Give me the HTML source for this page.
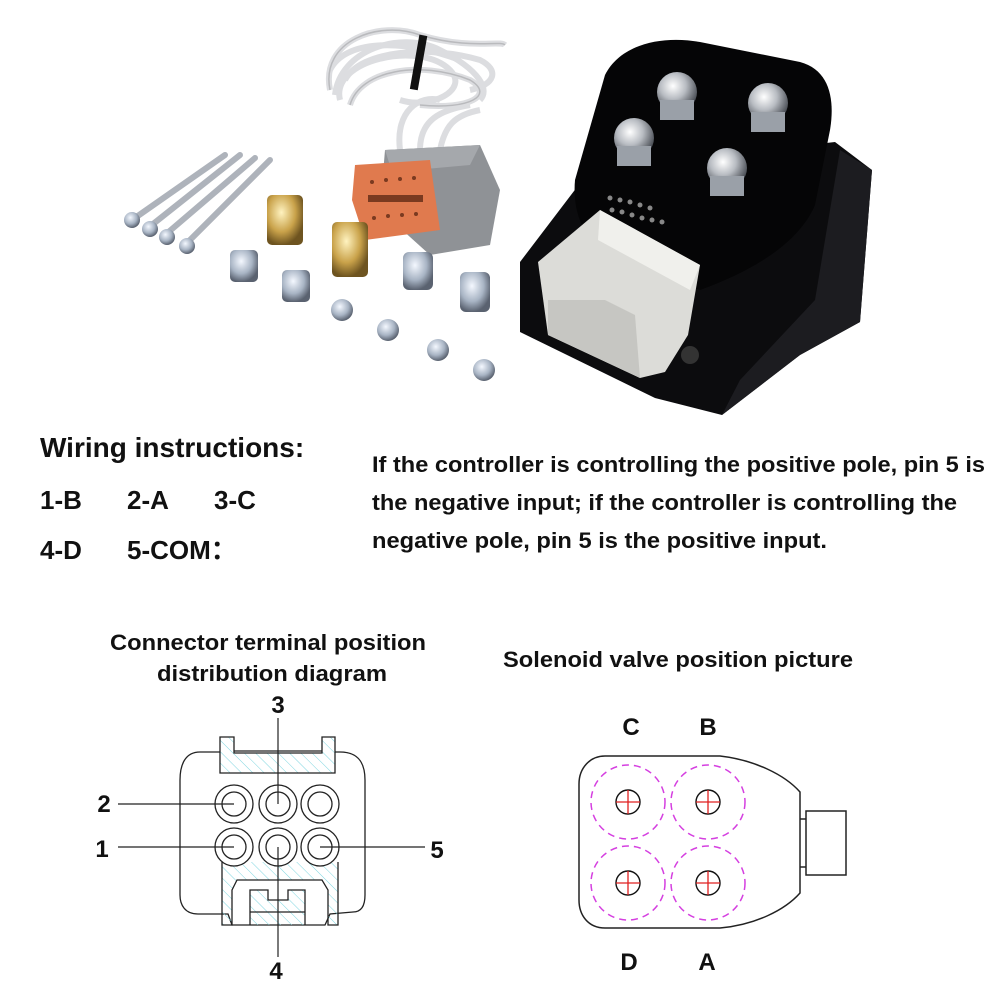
<!DOCTYPE html>
<html><head><meta charset="utf-8"><style>
html,body{margin:0;padding:0;background:#fff;}
svg{display:block;}
text{font-family:"Liberation Sans",Arial,sans-serif;fill:#111;}
</style></head><body>
<svg width="1000" height="1000" viewBox="0 0 1000 1000" xmlns="http://www.w3.org/2000/svg">
<defs>
<pattern id="h" width="8" height="8" patternUnits="userSpaceOnUse" patternTransform="rotate(-45)"><line x1="0" y1="0" x2="0" y2="8" stroke="#7fd6e0" stroke-width="1"/></pattern>
<radialGradient id="nut" cx="40%" cy="35%" r="65%"><stop offset="0" stop-color="#fff"/><stop offset="0.5" stop-color="#b8bcc2"/><stop offset="1" stop-color="#4a4e55"/></radialGradient>
<radialGradient id="brass" cx="40%" cy="35%" r="65%"><stop offset="0" stop-color="#fff3c0"/><stop offset="0.6" stop-color="#c9a24a"/><stop offset="1" stop-color="#6e5420"/></radialGradient>
<radialGradient id="zinc" cx="40%" cy="35%" r="65%"><stop offset="0" stop-color="#f4f8ff"/><stop offset="0.6" stop-color="#a8b4c4"/><stop offset="1" stop-color="#5a6270"/></radialGradient>
</defs>

<g fill="none" stroke="#dcdde0" stroke-width="6">
<path d="M330,90 C320,40 380,20 420,35 C470,50 500,40 505,45"/>
<path d="M335,95 C340,50 400,30 440,50 C480,70 490,90 480,100"/>
<path d="M340,100 C330,60 420,40 450,70 C470,90 430,110 400,100"/>
<path d="M350,105 C360,70 420,60 470,80 C495,95 470,110 420,105"/>
<path d="M345,80 C360,50 430,45 480,60 C500,70 495,85 470,90"/>
<path d="M330,70 C345,40 400,38 460,60"/>
<path d="M400,150 C395,110 420,95 440,100"/>
<path d="M420,150 C420,120 440,110 470,105"/>
<path d="M440,150 C445,125 455,115 480,110"/>
</g>
<g fill="none" stroke="#b9babd" stroke-width="1.5">
<path d="M330,90 C320,40 380,20 420,35 C470,50 500,40 505,45"/>
<path d="M350,105 C360,70 420,60 470,80 C495,95 470,110 420,105"/>
</g>
<rect x="415" y="35" width="8" height="55" fill="#111" transform="rotate(10 419 60)"/>

<polygon points="385,150 480,145 500,190 490,245 430,255 380,210" fill="#8f9296"/>
<polygon points="385,150 480,145 470,165 392,172" fill="#a5a8ac"/>
<polygon points="355,165 430,160 440,230 365,240 352,200" fill="#e07a4e"/>
<g fill="#7a3a20">
<circle cx="372" cy="182" r="2"/><circle cx="386" cy="180" r="2"/><circle cx="400" cy="179" r="2"/><circle cx="414" cy="178" r="2"/>
<circle cx="374" cy="218" r="2"/><circle cx="388" cy="216" r="2"/><circle cx="402" cy="215" r="2"/><circle cx="416" cy="214" r="2"/>
<rect x="368" y="195" width="55" height="7"/>
</g>

<g stroke="#aeb3bb" stroke-width="6" stroke-linecap="round">
<line x1="132" y1="220" x2="225" y2="155"/>
<line x1="148" y1="228" x2="240" y2="155"/>
<line x1="165" y1="235" x2="255" y2="158"/>
<line x1="185" y1="245" x2="270" y2="160"/>
</g>
<g fill="url(#zinc)"><circle cx="132" cy="220" r="8"/><circle cx="150" cy="229" r="8"/><circle cx="167" cy="237" r="8"/><circle cx="187" cy="246" r="8"/></g>

<rect x="267" y="195" width="36" height="50" rx="5" fill="url(#brass)"/>
<rect x="332" y="222" width="36" height="55" rx="5" fill="url(#brass)"/>
<rect x="230" y="250" width="28" height="32" rx="5" fill="url(#zinc)"/>
<rect x="282" y="270" width="28" height="32" rx="5" fill="url(#zinc)"/>
<rect x="403" y="252" width="30" height="38" rx="6" fill="url(#zinc)"/>
<rect x="460" y="272" width="30" height="40" rx="6" fill="url(#zinc)"/>
<circle cx="342" cy="310" r="11" fill="url(#zinc)"/>
<circle cx="388" cy="330" r="11" fill="url(#zinc)"/>
<circle cx="438" cy="350" r="11" fill="url(#zinc)"/>
<circle cx="484" cy="370" r="11" fill="url(#zinc)"/>

<polygon points="520,262 590,170 835,142 872,170 860,322 800,355 722,415 655,398 520,332" fill="#0c0c0e"/>
<polygon points="722,415 800,355 860,322 872,170 840,150 815,300 740,380" fill="#1c1c20"/>
<path d="M605,75 C620,45 660,35 700,42 L800,62 C830,70 835,100 830,130 L815,205 C800,240 760,268 700,290 L620,262 C585,245 572,215 575,180 Z" fill="#050506"/>
<g fill="url(#nut)">
<circle cx="677" cy="92" r="20"/><circle cx="768" cy="103" r="20"/><circle cx="634" cy="138" r="20"/><circle cx="727" cy="168" r="20"/>
</g>
<g fill="#9aa0a8"><rect x="660" y="100" width="34" height="20"/><rect x="751" y="112" width="34" height="20"/><rect x="617" y="146" width="34" height="20"/><rect x="710" y="176" width="34" height="20"/></g>
<g fill="#888"><circle cx="610" cy="198" r="2.5"/><circle cx="620" cy="200" r="2.5"/><circle cx="630" cy="202" r="2.5"/><circle cx="640" cy="205" r="2.5"/><circle cx="650" cy="208" r="2.5"/><circle cx="612" cy="210" r="2.5"/><circle cx="622" cy="212" r="2.5"/><circle cx="632" cy="215" r="2.5"/><circle cx="642" cy="218" r="2.5"/><circle cx="652" cy="220" r="2.5"/><circle cx="662" cy="222" r="2.5"/></g>
<polygon points="538,262 600,210 700,265 688,335 665,372 640,378 548,335" fill="#dcdcd8"/>
<polygon points="548,300 605,300 635,315 640,378 548,335" fill="#c6c6c2"/>
<polygon points="600,210 700,265 690,290 598,240" fill="#f0f0ec"/>
<circle cx="690" cy="355" r="9" fill="#333"/>

<text x="40" y="457" font-size="28" font-weight="bold">Wiring instructions:</text>
<text x="40" y="509" font-size="26" font-weight="bold">1-B</text>
<text x="127" y="509" font-size="26" font-weight="bold">2-A</text>
<text x="214" y="509" font-size="26" font-weight="bold">3-C</text>
<text x="40" y="559" font-size="26" font-weight="bold">4-D</text>
<text x="127" y="559" font-size="26" font-weight="bold">5-COM：</text>
<g font-size="22" font-weight="bold">
<text x="372" y="472" textLength="613" lengthAdjust="spacingAndGlyphs">If the controller is controlling the positive pole, pin 5 is</text>
<text x="372" y="510" textLength="585" lengthAdjust="spacingAndGlyphs">the negative input; if the controller is controlling the</text>
<text x="372" y="548" textLength="455" lengthAdjust="spacingAndGlyphs">negative pole, pin 5 is the positive input.</text>
</g>
<g font-size="22" font-weight="bold">
<text x="110" y="650" textLength="316" lengthAdjust="spacingAndGlyphs">Connector terminal position</text>
<text x="157" y="681" textLength="230" lengthAdjust="spacingAndGlyphs">distribution diagram</text>
<text x="503" y="667" textLength="350" lengthAdjust="spacingAndGlyphs">Solenoid valve position picture</text>
</g>

<g fill="none" stroke="#222" stroke-width="1.3">
<path d="M220,752 L200,752 C185,752 180,765 180,780 L180,895 C180,905 185,914 198,914 L228,914 L232,925 L325,925 L330,914 L353,912 C362,912 365,905 365,895 L365,780 C365,765 360,752 340,752 L335,752"/>
<path d="M220,737 L234,737 L234,753 L322,753 L322,737 L335,737 L335,773 L220,773 Z" fill="url(#h)"/>
<line x1="234" y1="751" x2="322" y2="751"/>
<path d="M222,862 L222,925 L232,925 L232,890 L237,880 L322,880 L328,890 L328,925 L338,925 L338,862" fill="url(#h)"/>
<path d="M250,925 L250,890 L268,890 L268,900 L288,900 L288,890 L305,890 L305,925" fill="url(#h)"/>
<line x1="250" y1="912" x2="305" y2="912"/>
</g>
<g fill="#fff" stroke="#222" stroke-width="1.3">
<circle cx="234" cy="804" r="19"/><circle cx="278" cy="804" r="19"/><circle cx="320" cy="804" r="19"/>
<circle cx="234" cy="847" r="19"/><circle cx="278" cy="847" r="19"/><circle cx="320" cy="847" r="19"/>
<circle cx="234" cy="804" r="12"/><circle cx="278" cy="804" r="12"/><circle cx="320" cy="804" r="12"/>
<circle cx="234" cy="847" r="12"/><circle cx="278" cy="847" r="12"/><circle cx="320" cy="847" r="12"/>
</g>
<g stroke="#222" stroke-width="1.2">
<line x1="118" y1="804" x2="234" y2="804"/>
<line x1="118" y1="847" x2="234" y2="847"/>
<line x1="320" y1="847" x2="425" y2="847"/>
<line x1="278" y1="718" x2="278" y2="804"/>
<line x1="278" y1="847" x2="278" y2="957"/>
</g>
<g font-size="24" font-weight="bold">
<text x="278" y="713" text-anchor="middle">3</text>
<text x="104" y="812" text-anchor="middle">2</text>
<text x="102" y="857" text-anchor="middle">1</text>
<text x="437" y="858" text-anchor="middle">5</text>
<text x="276" y="979" text-anchor="middle">4</text>
<text x="631" y="735" text-anchor="middle">C</text>
<text x="708" y="735" text-anchor="middle">B</text>
<text x="629" y="970" text-anchor="middle">D</text>
<text x="707" y="970" text-anchor="middle">A</text>
</g>

<g fill="none" stroke="#222" stroke-width="1.5">
<path d="M605,756 L720,756 C755,760 785,775 800,792 L800,893 C785,910 755,925 720,928 L605,928 C588,928 579,915 579,900 L579,784 C579,768 590,756 605,756 Z"/>
<rect x="806" y="811" width="40" height="64"/>
<line x1="800" y1="819" x2="806" y2="819"/><line x1="800" y1="867" x2="806" y2="867"/>
</g>
<g fill="none" stroke="#d53fe0" stroke-width="1.5" stroke-dasharray="7,5">
<circle cx="628" cy="802" r="37"/><circle cx="708" cy="802" r="37"/><circle cx="628" cy="883" r="37"/><circle cx="708" cy="883" r="37"/>
</g>
<g fill="none" stroke="#111" stroke-width="1.4">
<circle cx="628" cy="802" r="12"/><circle cx="708" cy="802" r="12"/><circle cx="628" cy="883" r="12"/><circle cx="708" cy="883" r="12"/>
</g>
<g stroke="#e02020" stroke-width="1.3">
<line x1="616" y1="802" x2="640" y2="802"/><line x1="628" y1="790" x2="628" y2="814"/>
<line x1="696" y1="802" x2="720" y2="802"/><line x1="708" y1="790" x2="708" y2="814"/>
<line x1="616" y1="883" x2="640" y2="883"/><line x1="628" y1="871" x2="628" y2="895"/>
<line x1="696" y1="883" x2="720" y2="883"/><line x1="708" y1="871" x2="708" y2="895"/>
</g>
</svg>
</body></html>
